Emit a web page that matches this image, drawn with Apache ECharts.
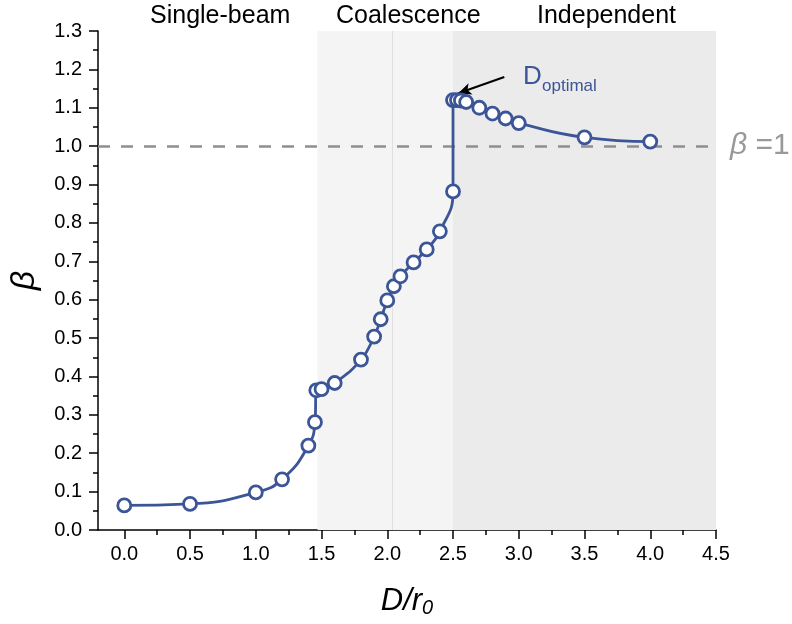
<!DOCTYPE html>
<html>
<head>
<meta charset="utf-8">
<script src="https://cdn.jsdelivr.net/npm/echarts@6/dist/echarts.min.js"></script>
<style>html,body{margin:0;padding:0;background:#fff}#c{width:792px;height:624px}</style>
</head>
<body>
<div id="c"></div>
<script>
// ---- data ----
const dRatio = [0, 0.5, 1.0, 1.2, 1.4, 1.45, 1.46, 1.5, 1.6, 1.8, 1.9, 1.95, 2.0, 2.05, 2.1, 2.2, 2.3, 2.4, 2.5, 2.5, 2.53, 2.56, 2.6, 2.7, 2.8, 2.9, 3.0, 3.5, 4.0];
const beta = [0.064, 0.068, 0.098, 0.132, 0.220, 0.281, 0.364, 0.367, 0.383, 0.444, 0.504, 0.549, 0.598, 0.635, 0.661, 0.697, 0.731, 0.778, 0.882, 1.120, 1.120, 1.119, 1.115, 1.100, 1.085, 1.072, 1.060, 1.023, 1.012];
const xMajorTicks = [0, 0.5, 1.0, 1.5, 2.0, 2.5, 3.0, 3.5, 4.0, 4.5];
const xMinorTicks = [0.25, 0.75, 1.25, 1.75, 2.25, 2.75, 3.25, 3.75, 4.25];
const regionBounds = [1.47, 2.5, 4.5];
const regionNames = ['Single-beam', 'Coalescence', 'Independent'];
const dividerX = 2.045;
const optimalPoint = [2.54, 1.138];
const optimalTail = [2.89, 1.18];

const FONT = "'Liberation Sans', Arial, sans-serif";
const BLUE = '#3b5597';
const chart = echarts.init(document.getElementById('c'), null, {renderer: 'canvas'});

chart.setOption({
  animation: false,
  backgroundColor: '#fff',
  grid: {left: 97, right: 76, top: 31, bottom: 94, containLabel: false},
  xAxis: [{
    type: 'value', min: -0.2, max: 4.5,
    name: '{i|D/r}{s|0}', nameLocation: 'middle', nameGap: 54,
    nameTextStyle: {rich: {
      i: {fontFamily: FONT, fontStyle: 'italic', fontSize: 31, color: '#000'},
      s: {fontFamily: FONT, fontStyle: 'italic', fontSize: 20, color: '#000', padding: [14,0,0,0]}
    }},
    axisLine: {show: true, onZero: false, lineStyle: {color: '#000', width: 1.5}},
    axisTick: {show: true, inside: false, length: 9, customValues: xMajorTicks, lineStyle: {color: '#000', width: 1.5}},
    axisLabel: {show: true, customValues: xMajorTicks, margin: 14, fontFamily: FONT, fontSize: 20, color: '#000',
      formatter: v => v.toFixed(1)},
    splitLine: {show: false}
  }, {
    type: 'value', min: -0.2, max: 4.5, position: 'bottom',
    axisLine: {show: false},
    axisTick: {show: true, length: 5, customValues: xMinorTicks, lineStyle: {color: '#000', width: 1.5}},
    axisLabel: {show: false},
    splitLine: {show: false}
  }],
  yAxis: {
    type: 'value', min: 0, max: 1.3, interval: 0.1,
    name: 'β', nameLocation: 'middle', nameGap: 56, nameRotate: 90,
    nameTextStyle: {fontFamily: FONT, fontStyle: 'italic', fontSize: 34, color: '#000'},
    axisLine: {show: true, onZero: false, lineStyle: {color: '#000', width: 1.5}},
    axisTick: {show: true, length: 9, lineStyle: {color: '#000', width: 1.5}},
    minorTick: {show: true, splitNumber: 2, length: 5, lineStyle: {color: '#000', width: 1.5}},
    axisLabel: {margin: 16, fontFamily: FONT, fontSize: 20, color: '#000', formatter: v => v.toFixed(1)},
    splitLine: {show: false}
  },
  series: [{
    type: 'line',
    data: dRatio.map((x, i) => [x, beta[i]]),
    smooth: 0.5,
    symbol: 'circle', symbolSize: 13,
    itemStyle: {color: '#fff', borderColor: BLUE, borderWidth: 2.8},
    lineStyle: {color: BLUE, width: 2.8},
    z: 5,
    markArea: {
      silent: true,
      data: [
        [{xAxis: regionBounds[0], itemStyle: {color: '#f4f4f4'}}, {xAxis: regionBounds[1]}],
        [{xAxis: regionBounds[1], itemStyle: {color: '#ebebeb'}}, {xAxis: regionBounds[2]}]
      ]
    },
    markLine: {
      silent: true, symbol: 'none',
      data: [
        {xAxis: dividerX, lineStyle: {color: '#e0e0e0', width: 1, type: 'solid'}, label: {show: false}},
        {yAxis: 1, lineStyle: {color: '#8f8f8f', width: 2.5, type: [12, 11]},
          label: {show: true, position: 'end', distance: 14, formatter: '{b|β} =1',
            fontFamily: FONT, fontSize: 30, color: '#999',
            rich: {b: {fontFamily: FONT, fontStyle: 'italic', fontSize: 30, color: '#999'}}}},
        [{coord: optimalTail, lineStyle: {color: '#000', width: 2, type: 'solid'}, label: {show: false}},
         {coord: optimalPoint, symbol: 'arrow', symbolSize: [9, 13]}]
      ]
    }
  }],
  graphic: [
    {type: 'text', left: 150, top: 4, z: 100, style: {text: regionNames[0], font: '25px ' + FONT, fill: '#000'}},
    {type: 'text', left: 336, top: 4, z: 100, style: {text: regionNames[1], font: '25px ' + FONT, fill: '#000'}},
    {type: 'text', left: 537, top: 4, z: 100, style: {text: regionNames[2], font: '25px ' + FONT, fill: '#000'}},
    {type: 'text', left: 523, top: 64, z: 100, style: {text: 'D', font: '26px ' + FONT, fill: BLUE}},
    {type: 'text', left: 542, top: 78, z: 100, style: {text: 'optimal', font: '17px ' + FONT, fill: BLUE}}
  ]
});
</script>
</body>
</html>
